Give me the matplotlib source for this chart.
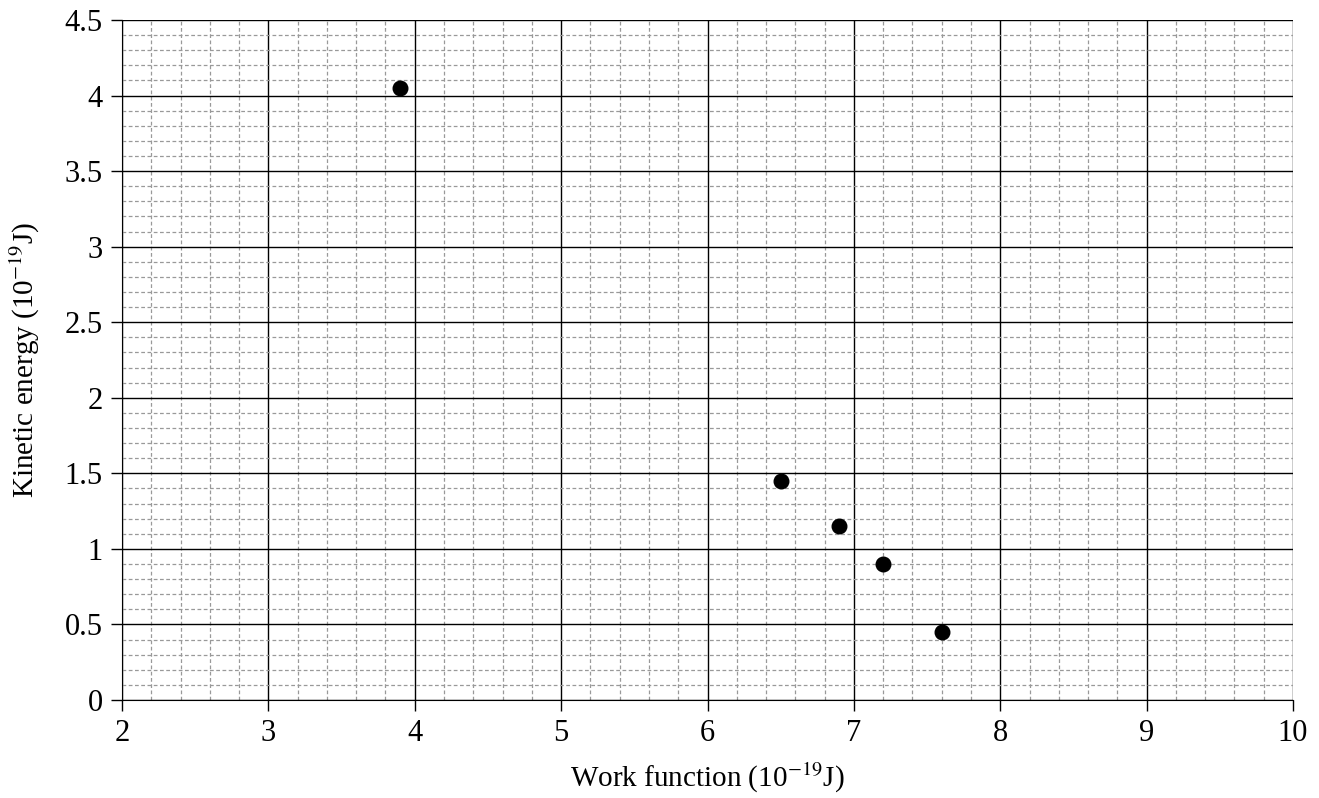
import numpy as np
import matplotlib.pyplot as plt
from matplotlib.ticker import MultipleLocator

work_function = [3.9, 6.5, 6.9, 7.2, 7.6]
kinetic_energy = [4.05, 1.45, 1.15, 0.9, 0.45]

plt.rcParams['font.family'] = ['Liberation Serif', 'DejaVu Serif']
plt.rcParams['mathtext.fontset'] = 'stix'

fig = plt.figure(figsize=(13.19, 7.98), dpi=100)
ax = fig.add_axes([122 / 1319, 1 - 700 / 798, (1293 - 122) / 1319, (700 - 20) / 798])

ax.set_xlim(2, 10)
ax.set_ylim(0, 4.5)
ax.xaxis.set_major_locator(MultipleLocator(1))
ax.xaxis.set_minor_locator(MultipleLocator(0.2))
ax.yaxis.set_minor_locator(MultipleLocator(0.1))
ax.set_yticks([0, 0.5, 1, 1.5, 2, 2.5, 3, 3.5, 4, 4.5])
ax.set_yticklabels(['0', '0.5', '1', '1.5', '2', '2.5', '3', '3.5', '4', '4.5'])

ax.grid(which='minor', color='#999999', linestyle=(0, (3, 2)), linewidth=0.9)
ax.grid(which='major', color='black', linestyle='-', linewidth=1.0)
ax.set_axisbelow(True)

ax.scatter(work_function, kinetic_energy, s=110, color='black', zorder=3)

for side in ['top', 'right']:
    ax.spines[side].set_visible(False)
ax.tick_params(which='major', direction='out', length=8, width=1, labelsize=22, pad=6)
ax.tick_params(which='minor', length=0)

ax.set_xlabel(r'Work function (10$^{-19}$J)', fontsize=21, labelpad=9)
ax.set_ylabel(r'Kinetic energy (10$^{-19}$J)', fontsize=21, labelpad=16)

fig.savefig('out.png', dpi=100)
